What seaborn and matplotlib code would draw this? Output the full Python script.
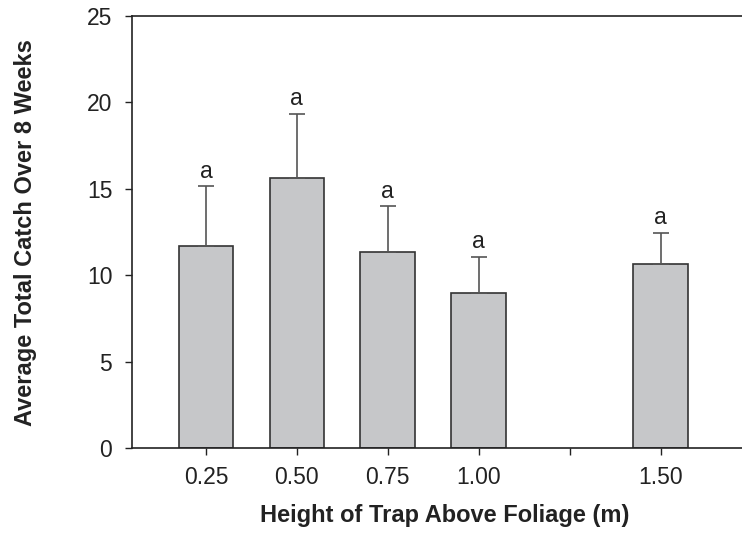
import numpy as np
import pandas as pd
import seaborn as sns
import matplotlib
matplotlib.use("Agg")
import matplotlib.pyplot as plt

# Trap height data
heights = [0.25, 0.50, 0.75, 1.00, 1.50]
mean_catch = [11.7, 15.65, 11.35, 9.0, 10.65]
se_catch = [3.45, 3.7, 2.65, 2.07, 1.8]
letters = ["a", "a", "a", "a", "a"]
tick_pos = [0.25, 0.50, 0.75, 1.00, 1.25, 1.50]
tick_labels = ["0.25", "0.50", "0.75", "1.00", "", "1.50"]

df = pd.DataFrame({"height": heights, "catch": mean_catch, "se": se_catch})

sns.set_style("ticks")
plt.rcParams["font.family"] = ["Liberation Sans", "DejaVu Sans"]

fig = plt.figure(figsize=(7.42, 5.36), dpi=100)
ax = fig.add_axes([0.1775, 0.164, 0.8225, 0.806])

sns.barplot(data=df, x="height", y="catch", native_scale=True, width=0.6,
            color="#c6c7c9", edgecolor="#333333", linewidth=1.2,
            saturation=1, errorbar=None, ax=ax)

# upper error bars only
ax.errorbar(df["height"], df["catch"], yerr=[np.zeros(len(df)), df["se"]],
            fmt="none", ecolor="#555555", elinewidth=1.2, capsize=6, capthick=1.2)

for h, m, s, t in zip(heights, mean_catch, se_catch, letters):
    ax.text(h, m + s + 0.5, t, ha="center", va="baseline", fontsize=16.5, color="#222222")

ax.set_xlim(0.046, 1.724)
ax.set_ylim(0, 25)
ax.set_yticks([0, 5, 10, 15, 20, 25])
ax.set_xticks(tick_pos)
ax.set_xticklabels(tick_labels)
ax.tick_params(axis="both", labelsize=16.5, colors="#222222", width=1, length=5)
ax.tick_params(axis="y", pad=9)
ax.tick_params(axis="x", pad=8)

ax.spines["right"].set_visible(False)
for s in ["left", "top", "bottom"]:
    ax.spines[s].set_color("#222222")
    ax.spines[s].set_linewidth(1.2)

ax.set_xlabel("Height of Trap Above Foliage (m)", fontsize=17, fontweight="bold",
              color="#222222", labelpad=14)
ax.set_ylabel("Average Total Catch Over 8 Weeks", fontsize=17, fontweight="bold",
              color="#222222", labelpad=36)
ax.xaxis.set_label_coords(0.513, -0.13)

fig.savefig("out.png", dpi=100)
